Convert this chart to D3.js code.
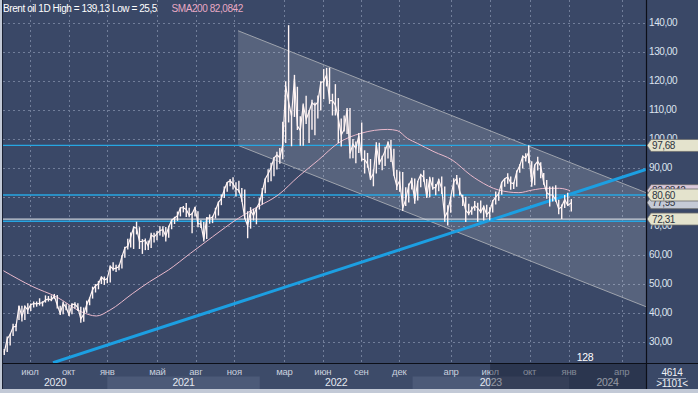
<!DOCTYPE html>
<html><head><meta charset="utf-8">
<script src="https://cdn.jsdelivr.net/npm/d3@7"></script>
<style>
html,body{margin:0;padding:0;background:#3a4867;overflow:hidden;}
svg{display:block;}
text{font-family:"Liberation Sans",Arial,sans-serif;}
</style></head><body>
<svg id="c" width="698" height="393"></svg>
<script>
// ---------- DATA ----------
const weekStart = "2020-05-01"; // weekly bars (Fridays)
const closes = [
26.4,31.0,32.5,35.1,35.3,42.3,38.7,42.2,41.0,42.8,
43.2,43.1,43.3,43.5,44.4,44.8,44.4,45.8,42.7,39.8,
43.2,41.9,39.3,42.9,42.9,41.8,37.9,39.5,42.8,45.0,
48.0,49.3,50.0,52.3,51.3,51.8,56.0,55.1,55.4,55.9,
59.3,62.4,62.9,66.1,69.4,69.2,64.5,64.6,64.9,62.95,
66.8,66.1,67.3,68.3,68.7,66.4,69.6,71.9,72.7,73.5,
76.2,76.2,75.6,73.6,74.1,76.3,70.7,70.6,65.2,72.7,
72.6,72.9,75.3,78.1,79.3,82.4,84.9,85.5,84.4,82.7,
82.2,78.9,72.7,69.9,75.2,73.5,76.1,77.8,81.75,86.1,
87.9,90.0,93.3,94.4,93.5,97.9,118.1,112.7,107.9,120.7,
104.4,102.8,111.7,106.65,109.3,112.4,111.55,112.55,119.4,119.7,
122.0,113.1,113.1,111.6,107.0,101.2,103.2,110.0,94.9,98.15,
96.7,100.99,93.0,92.8,91.35,86.15,87.96,97.9,91.6,93.5,
95.8,98.6,95.99,87.6,83.6,85.6,76.1,79.0,83.9,85.9,
78.6,85.3,87.6,86.7,79.9,86.4,83.0,83.2,85.8,82.8,
72.97,75.0,79.8,85.1,86.3,81.7,79.5,75.3,74.2,75.6,
76.95,76.1,74.8,76.6,73.85,74.9,78.5,79.9,81.1,84.99,
86.2,86.8,84.8,84.5,88.55,90.65,93.9,93.3,95.3,84.6,
90.9,92.2,90.5,84.9,81.4,80.6,80.6,78.9,75.8,76.6,
79.1,77.0,77.95];
const highs = [
27.5,31.8,32.8,36.2,36.1,42.5,42.4,42.5,43.3,43.2,
43.9,43.9,45.0,44.0,46.0,45.8,46.0,46.5,46.1,42.4,
43.9,43.2,42.6,43.3,43.6,43.3,42.1,41.8,44.2,45.3,
49.0,49.9,51.0,52.5,52.5,52.0,56.3,57.4,56.6,56.6,
59.8,62.8,65.5,67.7,69.8,71.4,69.5,65.4,65.6,64.9,
67.6,67.6,68.2,69.8,69.8,69.6,70.0,72.1,73.1,74.9,
76.3,76.8,77.8,76.2,74.5,76.5,75.0,71.9,71.3,72.9,
73.9,73.4,76.2,78.3,80.8,83.5,85.1,86.1,86.7,85.0,
85.5,83.0,82.5,75.0,76.4,75.9,76.4,79.5,83.0,86.3,
89.5,91.7,93.7,95.5,96.8,105.8,119.8,139.13,109.0,122.0,
117.9,107.7,112.1,114.8,109.8,113.4,112.5,114.9,119.8,124.0,
124.4,124.5,115.5,118.8,114.0,107.0,108.0,110.6,110.6,99.9,
99.0,102.0,105.6,96.0,95.1,93.0,89.4,98.8,98.6,94.1,
97.2,99.0,99.6,96.5,89.3,88.7,88.5,83.3,84.6,86.5,
86.3,85.4,87.9,89.1,86.1,86.9,86.7,84.4,86.2,87.0,
83.5,77.1,80.0,86.4,87.5,86.5,80.7,80.0,77.6,76.6,
78.5,77.9,78.7,77.0,77.2,76.4,78.8,81.8,81.5,85.1,
86.3,88.1,87.0,85.0,89.0,91.2,94.2,95.0,97.7,92.2,
91.0,93.8,91.9,88.2,85.8,83.5,83.5,84.0,79.0,77.3,
80.6,81.4,79.2];
const lows = [
25.5,26.5,28.7,32.0,33.6,37.5,37.0,37.5,39.6,40.6,
41.8,42.1,42.5,42.2,43.5,43.9,44.0,44.8,41.5,39.2,
39.5,40.9,38.9,39.5,41.5,40.6,36.6,36.9,40.0,42.6,
44.9,47.0,48.1,49.9,49.6,50.2,50.4,54.5,54.1,54.7,
55.3,59.0,61.8,62.5,62.0,67.0,62.0,60.3,61.6,61.6,
62.3,64.2,65.0,66.6,66.2,64.6,65.9,68.8,70.6,71.7,
73.2,74.6,73.0,72.9,67.4,73.2,69.5,69.2,64.6,65.4,
70.7,70.9,72.5,73.5,77.1,79.6,81.7,83.6,82.5,80.1,
81.5,78.3,72.3,65.7,69.0,71.8,70.5,75.6,77.3,81.2,
85.0,85.3,87.1,89.4,91.4,92.9,98.5,105.6,97.4,107.5,
103.0,97.6,97.6,105.1,98.5,103.1,101.2,107.0,109.7,113.6,
118.0,112.0,108.0,108.0,98.5,97.3,102.5,101.6,93.2,93.3,
91.5,95.1,92.2,88.0,90.0,85.8,83.6,88.0,91.0,89.1,
90.6,93.2,92.0,87.2,82.3,81.7,75.1,76.8,78.0,82.5,
77.6,78.7,83.3,85.2,79.6,79.8,82.4,80.5,81.9,80.9,
71.4,70.1,74.5,80.0,84.2,80.4,76.8,71.3,73.6,73.8,
75.2,71.4,74.3,71.8,72.9,71.9,74.6,77.3,78.6,80.7,
83.4,84.5,82.4,82.7,83.4,88.3,89.7,92.1,91.5,83.4,
84.0,89.0,86.4,84.1,79.3,76.6,78.4,78.3,74.0,72.3,
76.1,76.8,74.9];

const smaDates = ["2020-04-29","2020-07-08","2020-09-02","2020-11-01","2020-12-06","2021-01-07","2021-03-03","2021-04-12","2021-05-27","2021-07-19","2021-09-10","2021-11-11","2021-12-28","2022-02-14","2022-04-03","2022-05-21","2022-07-07","2022-09-01","2022-11-03","2022-11-26","2022-12-20","2023-01-12","2023-02-20","2023-04-03","2023-05-16","2023-06-03","2023-07-21","2023-09-06","2023-10-07","2023-11-09","2023-12-10","2024-01-03"];
const smaValues = [54.5,49.0,45.5,40.3,38.9,40.9,46.7,50.7,54.7,60.5,66.2,72.6,76.6,80.6,86.9,92.6,98.4,101.9,103.2,102.8,100.1,98.4,95.5,92.7,87.5,85.7,82.3,81.4,82.3,82.9,82.9,82.08];

const channelDates = ["2021-11-10","2024-05-13"];
const channelUpper = [137.2, 81.4];
const channelLower = [97.7, 42.1];

const trendDates = ["2020-08-25","2024-05-13"];
const trendValues = [22.8, 89.4];

const levelValues = [97.68, 80.60, 72.31, 71.55];
const levelKinds  = ["blue","blue","gray","blue"];

const tagValues = [82.0842, 77.95, 80.60, 97.68, 72.31];
const tagLabels = ["82,0842","77,95","80,60","97,68","72,31"];
const tagKinds  = ["sma","last","level","level","level"];

const yTicks = [30,40,50,60,70,80,90,100,110,120,130,140];
const monthTicks = ["2020-07-01","2020-10-01","2021-01-01","2021-05-01","2021-08-01","2021-11-01","2022-03-01","2022-06-01","2022-09-01","2022-12-01","2023-04-01","2023-07-01","2023-10-01","2024-01-01","2024-04-01"];
const monthLabels = ["июл","окт","янв","май","авг","ноя","мар","июн","сен","дек","апр","июл","окт","янв","апр"];
const yearStarts = ["2020-01-01","2021-01-01","2022-01-01","2023-01-01","2024-01-01","2025-01-01"];
const yearLabels = ["2020","2021","2022","2023","2024"];
const overlayStart = "2023-07-01";

const legendMain = "Brent oil 1D High = 139,13 Low = 25,5";
const legendSma = "SMA200 82,0842";
const barsCount = "128";
const cornerTop = "4614";
const cornerBottom = ">1101<";

// ---------- LAYOUT ----------
const parse = d3.timeParse("%Y-%m-%d");
const PL = 3, PR = 646, PT = 0, PB = 363, AXB = 389;
const x = d3.scaleTime()
  .domain([parse("2020-04-28"), parse("2021-01-01"), parse("2022-12-01"), parse("2024-01-01"), parse("2024-05-13")])
  .range([PL, 107.3, 399.3, 569, PR]);
const y = d3.scaleLinear().domain([22.7, 147.8]).range([PB, PT]);

const svg = d3.select("#c");
const fmt = v => d3.format(".2f")(v).replace(".", ",");

// backgrounds
svg.append("rect").attr("x",0).attr("y",0).attr("width",698).attr("height",393).attr("fill","#3a4867");
svg.append("rect").attr("x",PL).attr("y",PB).attr("width",PR-PL).attr("height",AXB-PB).attr("fill","#3d4b69");

const defs = svg.append("defs");
defs.append("clipPath").attr("id","plotclip").append("rect")
  .attr("x",PL).attr("y",PT).attr("width",PR-PL).attr("height",PB-PT);

// grid
const grid = svg.append("g").attr("stroke","#7784a0").attr("stroke-width",1).attr("stroke-dasharray","2,3").attr("opacity",0.9);
grid.selectAll("line.h").data(yTicks).join("line")
  .attr("x1",PL).attr("x2",PR).attr("y1",d=>Math.round(y(d))+0.5).attr("y2",d=>Math.round(y(d))+0.5);
grid.selectAll("line.v").data(monthTicks).join("line")
  .attr("y1",PT).attr("y2",PB).attr("x1",d=>Math.round(x(parse(d)))+0.5).attr("x2",d=>Math.round(x(parse(d)))+0.5);

const plot = svg.append("g").attr("clip-path","url(#plotclip)");

// channel
const chPoly = [
  [x(parse(channelDates[0])), y(channelUpper[0])],
  [x(parse(channelDates[1])), y(channelUpper[1])],
  [x(parse(channelDates[1])), y(channelLower[1])],
  [x(parse(channelDates[0])), y(channelLower[0])]
];
plot.append("path").attr("d","M"+chPoly.map(p=>p.join(",")).join("L")+"Z")
  .attr("fill","#ffffff").attr("fill-opacity",0.15).attr("stroke","none");
const lineGen = d3.line();
plot.append("path").attr("d",lineGen([chPoly[0],chPoly[1]])).attr("stroke","#9ea3ad").attr("stroke-width",1).attr("fill","none");
plot.append("path").attr("d",lineGen([chPoly[3],chPoly[2]])).attr("stroke","#9ea3ad").attr("stroke-width",1).attr("fill","none");

// horizontal levels
plot.selectAll("line.lvl").data(levelValues).join("line")
  .attr("x1",PL).attr("x2",PR)
  .attr("y1",d=>y(d)).attr("y2",d=>y(d))
  .attr("stroke",(d,i)=>levelKinds[i]==="blue" ? "#27a6e2" : "#c9d0da")
  .attr("stroke-width",1.3);

// trend line
plot.append("path")
  .attr("d", d3.line().x(d=>x(parse(d[0]))).y(d=>y(d[1]))(trendDates.map((d,i)=>[d,trendValues[i]])))
  .attr("stroke","#1c9fe2").attr("stroke-width",3).attr("fill","none");

// SMA200
plot.append("path")
  .attr("d", d3.line().curve(d3.curveMonotoneX).x(d=>x(parse(d[0]))).y(d=>y(d[1]))(smaDates.map((d,i)=>[d,smaValues[i]])))
  .attr("stroke","#e9b9cc").attr("stroke-width",1).attr("fill","none");

// price
const weekDates = closes.map((_,i)=>d3.timeDay.offset(parse(weekStart), 7*i));
plot.selectAll("line.bar").data(closes).join("line")
  .attr("x1",(d,i)=>x(weekDates[i])).attr("x2",(d,i)=>x(weekDates[i]))
  .attr("y1",(d,i)=>y(highs[i])).attr("y2",(d,i)=>y(lows[i]))
  .attr("stroke","#fff4f4").attr("stroke-width",1.4);
plot.append("path")
  .attr("d", d3.line().x((d,i)=>x(weekDates[i])).y(d=>y(d))(closes))
  .attr("stroke","#fff4f4").attr("stroke-width",1.2).attr("fill","none");

// bars count label
svg.append("text").attr("x",585).attr("y",361).attr("text-anchor","middle")
  .attr("font-size",10.5).attr("fill","#ffffff").attr("letter-spacing",-0.3).text(barsCount);

// legend
svg.append("text").attr("x",3).attr("y",12).attr("font-size",10).attr("letter-spacing",-0.42)
  .attr("fill","#ffffff").text(legendMain);
svg.append("text").attr("x",171.5).attr("y",12).attr("font-size",10).attr("letter-spacing",-0.42)
  .attr("fill","#e8a9c4").text(legendSma);

// outer frame
svg.append("rect").attr("x",0).attr("y",AXB).attr("width",698).attr("height",393-AXB).attr("fill","#c2c9d6");
svg.append("rect").attr("x",0).attr("y",0).attr("width",2).attr("height",393).attr("fill","#c2c9d6");
svg.append("line").attr("x1",2.5).attr("x2",2.5).attr("y1",0).attr("y2",AXB).attr("stroke","#1a2133").attr("stroke-width",1);

// bottom axis: year bands
const yb = svg.append("g");
const dom = x.domain();
yearLabels.forEach((lab,i)=>{
  const a = Math.max(+parse(yearStarts[i]), +dom[0]);
  const b = Math.min(+parse(yearStarts[i+1]), +dom[dom.length-1]);
  const x0 = x(new Date(a)), x1 = x(new Date(b));
  if (i % 2 === 1) yb.append("rect").attr("x",x0).attr("y",376.5).attr("width",x1-x0).attr("height",AXB-376.5).attr("fill","#4c5a78");
  yb.append("text").attr("x",(x0+x1)/2).attr("y",386).attr("text-anchor","middle")
    .attr("font-size",10.5).attr("letter-spacing",-0.3).attr("fill","#e4e8f0").text(lab);
});
svg.selectAll("text.m").data(monthTicks).join("text")
  .attr("x",d=>x(parse(d))).attr("y",374.5).attr("text-anchor","middle")
  .attr("font-size",9.5).attr("letter-spacing",-0.2).attr("fill","#c9d0de")
  .text((d,i)=>monthLabels[i]);
// dim overlay
svg.append("rect").attr("x",x(parse(overlayStart))).attr("y",PB+1).attr("width",PR-x(parse(overlayStart))).attr("height",AXB-PB-1)
  .attr("fill","#0f1626").attr("opacity",0.38);

// right axis labels
svg.selectAll("text.yt").data(yTicks).join("text")
  .attr("x",649).attr("y",d=>y(d)).attr("dy","0.36em")
  .attr("font-size",10).attr("letter-spacing",-0.4).attr("fill","#dde4ef").text(fmt);

// tags
const tagFill = {sma:"#dbc9da", last:"#c5cad6", level:"#e4e3cd"};
tagValues.forEach((v,i)=>{
  const cy = y(v);
  const g = svg.append("g");
  g.append("path").attr("d",`M647,${cy} L651,${cy-6} L700,${cy-6} L700,${cy+6} L651,${cy+6} Z`)
    .attr("fill",tagFill[tagKinds[i]]).attr("stroke","#6c6c6c").attr("stroke-width",0.8);
  g.append("text").attr("x",652).attr("y",cy).attr("dy","0.36em").attr("font-size",10).attr("letter-spacing",-0.4)
    .attr("fill","#2d3340").text(tagLabels[i]);
});

// separators
svg.append("line").attr("x1",646.5).attr("x2",646.5).attr("y1",0).attr("y2",AXB).attr("stroke","#0c0f18").attr("stroke-width",1.2);
svg.append("line").attr("x1",PL).attr("x2",698).attr("y1",PB+0.5).attr("y2",PB+0.5).attr("stroke","#0c0f18").attr("stroke-width",1.2);

// corner cell
svg.append("text").attr("x",672).attr("y",376).attr("text-anchor","middle").attr("font-size",10).attr("letter-spacing",-0.3).attr("fill","#eef1f6").text(cornerTop);
svg.append("line").attr("x1",658).attr("x2",686).attr("y1",378.5).attr("y2",378.5).attr("stroke","#a9b2c4").attr("stroke-width",0.8);
svg.append("text").attr("x",672).attr("y",386.5).attr("text-anchor","middle").attr("font-size",10).attr("letter-spacing",-0.3).attr("fill","#eef1f6").text(cornerBottom);
</script>
</body></html>
